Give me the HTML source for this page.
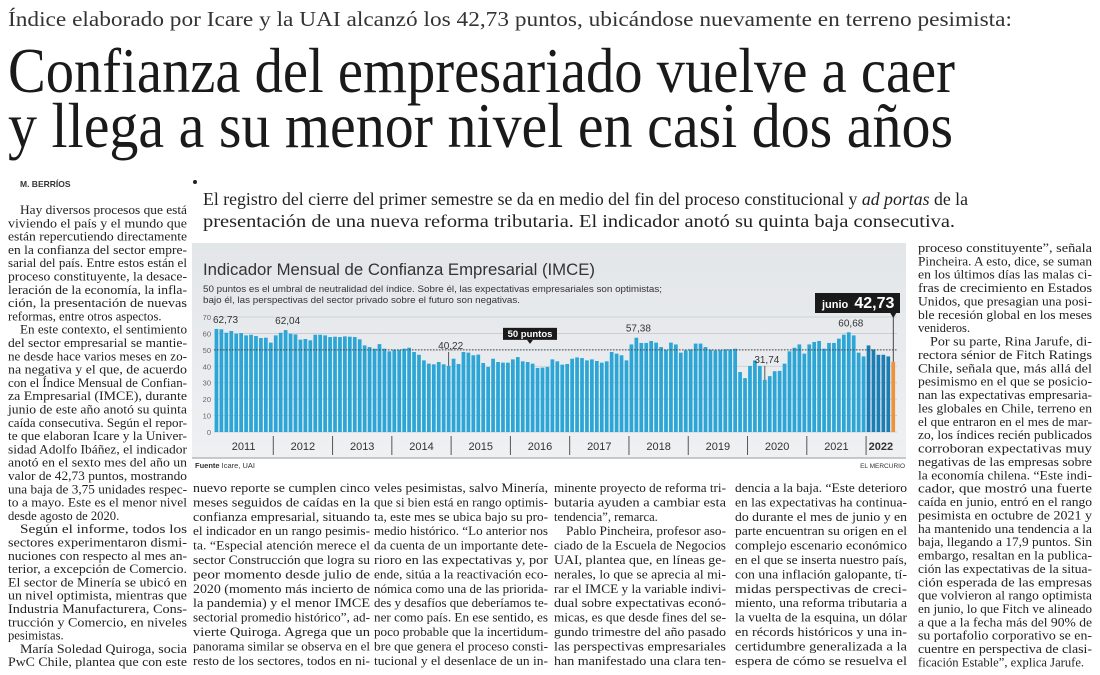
<!DOCTYPE html>
<html><head><meta charset="utf-8">
<style>
html,body{margin:0;padding:0;background:#fff;}
svg{display:block;}
.b{font-family:"Liberation Serif",serif;font-size:12.6px;fill:#222;}
.s{font-family:"Liberation Sans",sans-serif;}
</style></head>
<body>
<svg id="page" width="1100" height="675" viewBox="0 0 1100 675" xmlns="http://www.w3.org/2000/svg">
<rect width="1100" height="675" fill="#fff"/>
<text x="8" y="26" font-family="Liberation Serif, serif" font-size="21" fill="#333" textLength="1004" lengthAdjust="spacingAndGlyphs">Índice elaborado por Icare y la UAI alcanzó los 42,73 puntos, ubicándose nuevamente en terreno pesimista:</text>
<text x="8" y="92" font-family="Liberation Serif, serif" font-size="64" fill="#1a1a1a" textLength="947" lengthAdjust="spacingAndGlyphs">Confianza del empresariado vuelve a caer</text>
<text x="8" y="147" font-family="Liberation Serif, serif" font-size="64" fill="#1a1a1a" textLength="945" lengthAdjust="spacingAndGlyphs">y llega a su menor nivel en casi dos años</text>
<text x="20" y="187" class="s" font-size="8.5" fill="#333" font-weight="bold">M. BERRÍOS</text>
<circle cx="195" cy="182" r="2" fill="#222"/>
<text x="203" y="205" font-family="Liberation Serif, serif" font-size="18" fill="#222" textLength="765" lengthAdjust="spacingAndGlyphs">El registro del cierre del primer semestre se da en medio del fin del proceso constitucional y <tspan font-style="italic">ad portas</tspan> de la</text>
<text x="203" y="227" font-family="Liberation Serif, serif" font-size="18" fill="#222" textLength="752" lengthAdjust="spacingAndGlyphs">presentación de una nueva reforma tributaria. El indicador anotó su quinta baja consecutiva.</text>

<g class="col" data-x="8" data-y="210" data-lh="13.3" data-w="179">
<text class="b j i">Hay diversos procesos que está</text>
<text class="b j">viviendo el país y el mundo que</text>
<text class="b j">están repercutiendo directamente</text>
<text class="b j">en la confianza del sector empre-</text>
<text class="b j">sarial del país. Entre estos están el</text>
<text class="b j">proceso constituyente, la desace-</text>
<text class="b j">leración de la economía, la infla-</text>
<text class="b j">ción, la presentación de nuevas</text>
<text class="b">reformas, entre otros aspectos.</text>
<text class="b j i">En este contexto, el sentimiento</text>
<text class="b j">del sector empresarial se mantie-</text>
<text class="b j">ne desde hace varios meses en zo-</text>
<text class="b j">na negativa y el que, de acuerdo</text>
<text class="b j">con el Índice Mensual de Confian-</text>
<text class="b j">za Empresarial (IMCE), durante</text>
<text class="b j">junio de este año anotó su quinta</text>
<text class="b j">caída consecutiva. Según el repor-</text>
<text class="b j">te que elaboran Icare y la Univer-</text>
<text class="b j">sidad Adolfo Ibáñez, el indicador</text>
<text class="b j">anotó en el sexto mes del año un</text>
<text class="b j">valor de 42,73 puntos, mostrando</text>
<text class="b j">una baja de 3,75 unidades respec-</text>
<text class="b j">to a mayo. Este es el menor nivel</text>
<text class="b">desde agosto de 2020.</text>
<text class="b j i">Según el informe, todos los</text>
<text class="b j">sectores experimentaron dismi-</text>
<text class="b j">nuciones con respecto al mes an-</text>
<text class="b j">terior, a excepción de Comercio.</text>
<text class="b j">El sector de Minería se ubicó en</text>
<text class="b j">un nivel optimista, mientras que</text>
<text class="b j">Industria Manufacturera, Cons-</text>
<text class="b j">trucción y Comercio, en niveles</text>
<text class="b">pesimistas.</text>
<text class="b j i">María Soledad Quiroga, socia</text>
<text class="b j">PwC Chile, plantea que con este</text>
</g>

<g class="col" data-x="193" data-y="488" data-lh="14.4" data-w="177">
<text class="b j">nuevo reporte se cumplen cinco</text>
<text class="b j">meses seguidos de caídas en la</text>
<text class="b j">confianza empresarial, situando</text>
<text class="b j">el indicador en un rango pesimis-</text>
<text class="b j">ta. “Especial atención merece el</text>
<text class="b j">sector Construcción que logra su</text>
<text class="b j">peor momento desde julio de</text>
<text class="b j">2020 (momento más incierto de</text>
<text class="b j">la pandemia) y el menor IMCE</text>
<text class="b j">sectorial promedio histórico”, ad-</text>
<text class="b j">vierte Quiroga. Agrega que un</text>
<text class="b j">panorama similar se observa en el</text>
<text class="b j">resto de los sectores, todos en ni-</text>
</g>
<g class="col" data-x="374" data-y="488" data-lh="14.4" data-w="174">
<text class="b j">veles pesimistas, salvo Minería,</text>
<text class="b j">que si bien está en rango optimis-</text>
<text class="b j">ta, este mes se ubica bajo su pro-</text>
<text class="b j">medio histórico. “Lo anterior nos</text>
<text class="b j">da cuenta de un importante dete-</text>
<text class="b j">rioro en las expectativas y, por</text>
<text class="b j">ende, sitúa a la reactivación eco-</text>
<text class="b j">nómica como una de las priorida-</text>
<text class="b j">des y desafíos que deberíamos te-</text>
<text class="b j">ner como país. En ese sentido, es</text>
<text class="b j">poco probable que la incertidum-</text>
<text class="b j">bre que genera el proceso consti-</text>
<text class="b j">tucional y el desenlace de un in-</text>
</g>
<g class="col" data-x="554" data-y="488" data-lh="14.4" data-w="172">
<text class="b j">minente proyecto de reforma tri-</text>
<text class="b j">butaria ayuden a cambiar esta</text>
<text class="b">tendencia”, remarca.</text>
<text class="b j i">Pablo Pincheira, profesor aso-</text>
<text class="b j">ciado de la Escuela de Negocios</text>
<text class="b j">UAI, plantea que, en líneas ge-</text>
<text class="b j">nerales, lo que se aprecia al mi-</text>
<text class="b j">rar el IMCE y la variable indivi-</text>
<text class="b j">dual sobre expectativas econó-</text>
<text class="b j">micas, es que desde fines del se-</text>
<text class="b j">gundo trimestre del año pasado</text>
<text class="b j">las perspectivas empresariales</text>
<text class="b j">han manifestado una clara ten-</text>
</g>
<g class="col" data-x="735" data-y="488" data-lh="14.4" data-w="172">
<text class="b j">dencia a la baja. “Este deterioro</text>
<text class="b j">en las expectativas ha continua-</text>
<text class="b j">do durante el mes de junio y en</text>
<text class="b j">parte encuentran su origen en el</text>
<text class="b j">complejo escenario económico</text>
<text class="b j">en el que se inserta nuestro país,</text>
<text class="b j">con una inflación galopante, tí-</text>
<text class="b j">midas perspectivas de creci-</text>
<text class="b j">miento, una reforma tributaria a</text>
<text class="b j">la vuelta de la esquina, un dólar</text>
<text class="b j">en récords históricos y una in-</text>
<text class="b j">certidumbre generalizada a la</text>
<text class="b j">espera de cómo se resuelva el</text>
</g>
<g class="col" data-x="918" data-y="248" data-lh="13.37" data-w="174">
<text class="b j">proceso constituyente”, señala</text>
<text class="b j">Pincheira. A esto, dice, se suman</text>
<text class="b j">en los últimos días las malas ci-</text>
<text class="b j">fras de crecimiento en Estados</text>
<text class="b j">Unidos, que presagian una posi-</text>
<text class="b j">ble recesión global en los meses</text>
<text class="b">venideros.</text>
<text class="b j i">Por su parte, Rina Jarufe, di-</text>
<text class="b j">rectora sénior de Fitch Ratings</text>
<text class="b j">Chile, señala que, más allá del</text>
<text class="b j">pesimismo en el que se posicio-</text>
<text class="b j">nan las expectativas empresaria-</text>
<text class="b j">les globales en Chile, terreno en</text>
<text class="b j">el que entraron en el mes de mar-</text>
<text class="b j">zo, los índices recién publicados</text>
<text class="b j">corroboran expectativas muy</text>
<text class="b j">negativas de las empresas sobre</text>
<text class="b j">la economía chilena. “Este indi-</text>
<text class="b j">cador, que mostró una fuerte</text>
<text class="b j">caída en junio, entró en el rango</text>
<text class="b j">pesimista en octubre de 2021 y</text>
<text class="b j">ha mantenido una tendencia a la</text>
<text class="b j">baja, llegando a 17,9 puntos. Sin</text>
<text class="b j">embargo, resaltan en la publica-</text>
<text class="b j">ción las expectativas de la situa-</text>
<text class="b j">ción esperada de las empresas</text>
<text class="b j">que volvieron al rango optimista</text>
<text class="b j">en junio, lo que Fitch ve alineado</text>
<text class="b j">a que a la fecha más del 90% de</text>
<text class="b j">su portafolio corporativo se en-</text>
<text class="b j">cuentre en perspectiva de clasi-</text>
<text class="b">ficación Estable”, explica Jarufe.</text>
</g>

<g id="chart">
<defs><linearGradient id="bg" x1="0" y1="0" x2="0" y2="1"><stop offset="0" stop-color="#e3e6e9"/><stop offset="1" stop-color="#eef0f2"/></linearGradient></defs>
<rect x="192" y="243" width="714" height="215" fill="url(#bg)"/>
<line x1="192" y1="458" x2="906" y2="458" stroke="#b5b9bd" stroke-width="1.5"/>
<text x="203" y="275" class="s" font-size="17" fill="#333" textLength="392" lengthAdjust="spacingAndGlyphs">Indicador Mensual de Confianza Empresarial (IMCE)</text>
<text x="203" y="292" class="s" font-size="9.5" fill="#333" textLength="459" lengthAdjust="spacingAndGlyphs">50 puntos es el umbral de neutralidad del índice. Sobre él, las expectativas empresariales son optimistas;</text>
<text x="203" y="303" class="s" font-size="9.5" fill="#333" textLength="317" lengthAdjust="spacingAndGlyphs">bajo él, las perspectivas del sector privado sobre el futuro son negativas.</text>
<g id="grid"></g><g id="bars"></g><g id="years"></g><g id="annot"></g>
<text x="195" y="468" class="s" font-size="7.5" fill="#333"><tspan font-weight="bold">Fuente</tspan> Icare, UAI</text>
<text x="905" y="468" class="s" font-size="6.5" fill="#333" text-anchor="end">EL MERCURIO</text>
</g>
</svg>
<script>
const years = ["2011","2012","2013","2014","2015","2016","2017","2018","2019","2020","2021","2022"];
const yTicks = [0,10,20,30,40,50,60,70];
const v2011 = [62.73,62.5,60.4,61.5,59.8,60.2,58.8,59.2,58.4,57.2,57.4,54.4];
const v2012 = [58.8,60.4,62.04,59.8,59.4,56.2,56.6,55.8,59.2,59.2,58.8,57.8];
const v2013 = [58,57.8,58.2,58,57.8,56.4,52.7,51.7,50.7,53.5,50.7,49.1];
const v2014 = [50.1,50.1,50.7,51.3,48.7,47,43.6,41.6,41.2,42.6,41.2,40.22];
const v2015 = [44.6,41.4,48.7,48.3,46.7,47.1,42,39.6,44.6,42.6,42.2,42.2];
const v2016 = [44.2,45.6,43,42.6,41.6,39,39.2,39.6,44.2,43,41,41.4];
const v2017 = [44.6,45.4,45,43.6,44.2,43.2,42.2,43,48.7,47.7,46.7,43.6];
const v2018 = [53.3,57.38,54.2,54.2,55.4,54.4,51.7,50.1,54.4,53.3,48.3,49.7];
const v2019 = [50.3,53.8,53.8,51.7,50.1,49.7,49.9,50.3,50.3,50.7,36.5,32.8];
const v2020 = [40.2,43.6,40.2,31.74,34,37,37.2,41.6,49.1,51.3,53.3,47.7];
const v2021 = [53.3,54.8,55.4,50.7,54.2,54.2,56.8,59.2,60.68,58.8,48.3,46];
const v2022 = [52.7,50.3,47,47,46,42.73];
const annotIdx = [0,14,47,85,111,128];
const annotLabels = ["62,73","62,04","40,22","57,38","31,74","60,68"];
const threshold = 50;
const lastLabel = "42,73";

const NS="http://www.w3.org/2000/svg";
const values=[].concat(v2011,v2012,v2013,v2014,v2015,v2016,v2017,v2018,v2019,v2020,v2021,v2022);
const X0=214, STEP=4.94, Y0=432, KY=1.643;
function xs(i){return X0+i*STEP;}
function ys(v){return Y0-v*KY;}
function mk(tag,attrs,parent){const e=document.createElementNS(NS,tag);for(const k in attrs)e.setAttribute(k,attrs[k]);parent.appendChild(e);return e;}

document.querySelectorAll('g.col').forEach(g=>{
  const x0=+g.dataset.x,y0=+g.dataset.y,lh=+g.dataset.lh,w=+g.dataset.w;
  Array.from(g.children).forEach((t,i)=>{
    const ind=t.classList.contains('i')?12:0;
    t.setAttribute('x',x0+ind);
    t.setAttribute('y',(y0+i*lh+4).toFixed(1));
    if(t.classList.contains('j')){t.setAttribute('textLength',w-ind);t.setAttribute('lengthAdjust','spacingAndGlyphs');}
    else {
      const nat=t.getComputedTextLength();
      if(nat>w-ind){t.setAttribute('textLength',w-ind);t.setAttribute('lengthAdjust','spacingAndGlyphs');}
    }
    
    
  });
});

const grid=document.getElementById('grid');
yTicks.forEach(t=>{
  const l=mk('line',{x1:X0,x2:897,y1:ys(t),y2:ys(t),stroke:'#c5cacf','stroke-width':0.8},grid);
  
  
  const tx=mk('text',{x:211,y:ys(t)+3,'text-anchor':'end','font-family':'Liberation Sans, sans-serif','font-size':7.5,fill:'#666'},grid);
  tx.textContent=t;
  
  
});

const bars=document.getElementById('bars');
values.forEach((v,i)=>{
  let fill='#2ba6d6';
  if(i>=132) fill='#1a7db3';
  if(i===values.length-1) fill='#f0923a';
  const r=mk('rect',{x:xs(i)+0.6,y:ys(v),width:3.7,height:v*KY,fill:fill},bars);
  
  
});
const th=mk('line',{x1:X0,x2:897,y1:ys(threshold),y2:ys(threshold),stroke:'#444','stroke-width':1,'stroke-dasharray':'1.5,1.5'},bars);



const yg=document.getElementById('years');
const YW=12*STEP;
years.forEach((y,k)=>{
  const n=(k===years.length-1)?v2022.length:12;
  const cx=X0+k*YW+n*STEP/2;
  const tx=mk('text',{x:cx,y:450,'text-anchor':'middle','font-family':'Liberation Sans, sans-serif','font-size':11,fill:'#333','font-weight':k===years.length-1?'bold':'normal'},yg);
  tx.textContent=y;
  
  
  if(k>0){
    const l=mk('line',{x1:X0+k*YW,x2:X0+k*YW,y1:436,y2:455,stroke:'#555','stroke-width':1},yg);
    
    
  }
});

const an=document.getElementById('annot');
annotIdx.forEach((idx,j)=>{
  const v=values[idx];
  const cx=xs(idx)+2.5;
  const hasLine=(idx===47||idx===111);
  const ty=hasLine?ys(v)-17:ys(v)-6;
  const ax=idx===0?cx+9:cx+2;
  const tx=mk('text',{x:ax,y:ty,'text-anchor':'middle','font-family':'Liberation Sans, sans-serif','font-size':10,fill:'#333'},an);
  tx.textContent=annotLabels[j];
  
  
  if(hasLine){
    const l=mk('line',{x1:cx,x2:cx,y1:ty+3,y2:ys(v),stroke:'#333','stroke-width':0.8},an);
    
    
  }
});
const bx=530;
const b50=mk('rect',{x:bx-27,y:ys(threshold)-22,width:54,height:12,fill:'#1a1a1a'},an);


const p50=mk('path',{d:`M${bx-3},${ys(threshold)-10} L${bx+3},${ys(threshold)-10} L${bx},${ys(threshold)-6} Z`,fill:'#1a1a1a'},an);


const t50=mk('text',{x:bx,y:ys(threshold)-13,'text-anchor':'middle','font-family':'Liberation Sans, sans-serif','font-size':9.5,'font-weight':'bold',fill:'#fff'},an);
t50.textContent=threshold+" puntos";


const li=values.length-1, lx=xs(li)+2.5;
const jb=mk('rect',{x:815,y:293,width:85,height:20,fill:'#1a1a1a'},an);


const jp=mk('path',{d:`M${lx-3},313 L${lx+3},313 L${lx},318 Z`,fill:'#1a1a1a'},an);


const jl=mk('line',{x1:lx,x2:lx,y1:317,y2:ys(values[li]),stroke:'#333','stroke-width':0.9},an);


const jt=mk('text',{x:822,y:308,'font-family':'Liberation Sans, sans-serif','font-weight':'bold',fill:'#fff'},an);


const ts1=mk('tspan',{'font-size':11},jt); ts1.textContent="junio ";
const ts2=mk('tspan',{'font-size':16,dx:3},jt); ts2.textContent=lastLabel;
</script>
</body></html>
